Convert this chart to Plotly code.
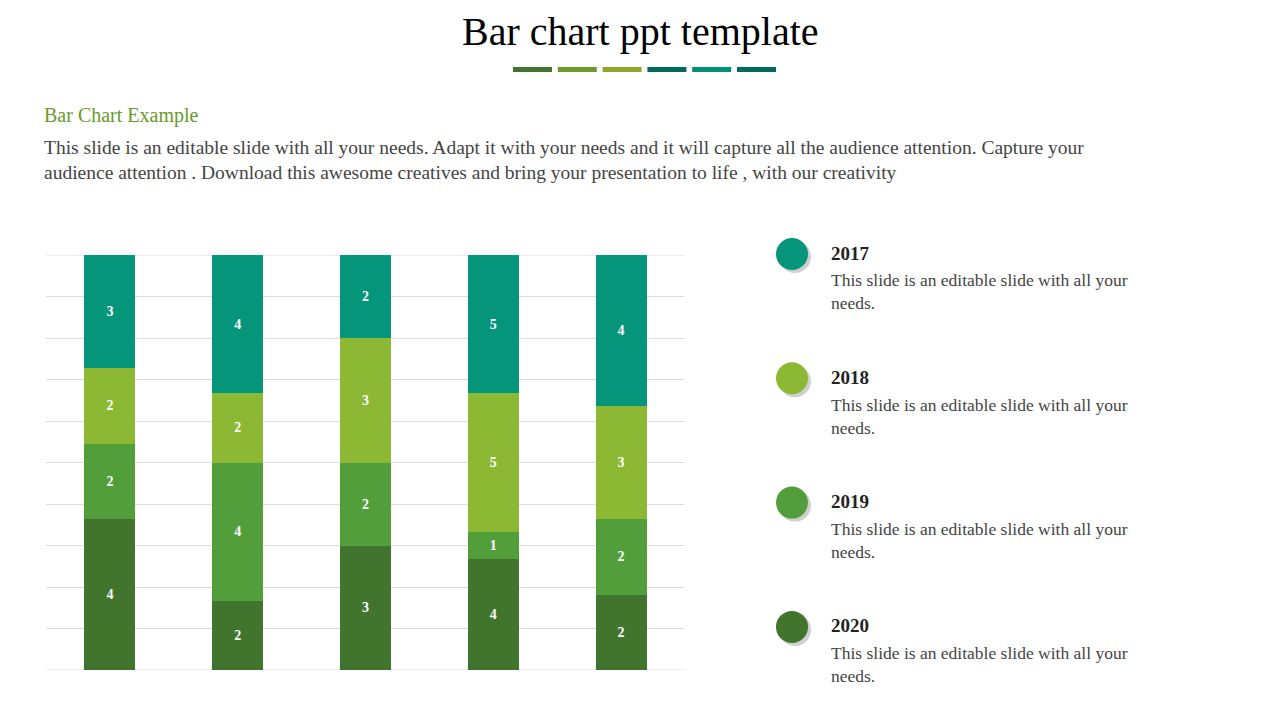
import plotly.graph_objects as go

categories = ["A", "B", "C", "D", "E"]
years = ["2020", "2019", "2018", "2017"]
values = {
    "2020": [4, 2, 3, 4, 2],
    "2019": [2, 4, 2, 1, 2],
    "2018": [2, 2, 3, 5, 3],
    "2017": [3, 4, 2, 5, 4],
}
colors = {"2017": "#05957a", "2018": "#8db833", "2019": "#529e3a", "2020": "#41752d"}
SERIF = "Liberation Serif"
W, H = 1280, 720
OFF = 8  # page offset

def px(x): return (x - OFF) / W
def py(y): return 1 - (y - OFF) / H

fig = go.Figure()
for y in years:
    fig.add_trace(go.Bar(
        x=categories, y=values[y], name=y, marker_color=colors[y], marker_line_width=0,
        text=[f"<b>{v}</b>" for v in values[y]], textposition="inside", insidetextanchor="middle",
        textfont=dict(color="white", size=14, family=SERIF), showlegend=False))

fig.update_layout(
    width=W, height=H, barmode="stack", barnorm="percent", bargap=0.6,
    margin=dict(l=0, r=0, t=0, b=0), paper_bgcolor="white", plot_bgcolor="white",
    font=dict(family=SERIF),
    xaxis=dict(domain=[px(46), px(685)], range=[-0.5, 4.5], showticklabels=False, showgrid=False, zeroline=False),
    yaxis=dict(domain=[py(670), py(255)], range=[0, 100], dtick=10, showticklabels=False,
               gridcolor="#dddddd", zeroline=False),
)

shapes = [dict(type="line", xref="x domain", yref="y", x0=0, x1=1, y0=100, y1=100,
               line=dict(color="#dddddd", width=1), layer="below"),
          dict(type="line", xref="x domain", yref="y", x0=0, x1=1, y0=0, y1=0,
               line=dict(color="#dddddd", width=1), layer="below")]
ann = []
def A(**k):
    k.setdefault("xref", "paper"); k.setdefault("yref", "paper"); k.setdefault("showarrow", False)
    ann.append(k)

A(x=px(640), y=py(32), text="Bar chart ppt template", xanchor="center", yanchor="middle",
  font=dict(size=40, color="black", family=SERIF))
line_cols = ["#41752d", "#6b9a2a", "#8fa82a", "#006b5a", "#009077", "#006b5a"]
for i, c in enumerate(line_cols):
    x0 = 513 + i * 44.8
    shapes.append(dict(type="rect", xref="paper", yref="paper", x0=px(x0), x1=px(x0 + 39),
                       y0=py(72), y1=py(67), fillcolor=c, line_width=0))
A(x=px(42), y=py(115), text="Bar Chart Example", xanchor="left", yanchor="middle",
  font=dict(size=20, color="#6b9a2a", family=SERIF))
A(x=px(42), y=py(160), xanchor="left", yanchor="middle", align="left",
  text="This slide is an editable slide with all your needs. Adapt it with your needs and it will capture all the audience attention. Capture your<br>audience attention . Download this awesome creatives and bring your presentation to life , with our creativity",
  font=dict(size=19.5, color="#444444", family=SERIF))

for i, y in enumerate(["2017", "2018", "2019", "2020"]):
    cy = 254 + i * 124.3
    shapes.append(dict(type="circle", xref="paper", yref="paper", x0=px(779), x1=px(811),
                       y0=py(cy + 19), y1=py(cy - 13), fillcolor="#bbbbbb", line_width=0, opacity=0.7))
    shapes.append(dict(type="circle", xref="paper", yref="paper", x0=px(776), x1=px(808),
                       y0=py(cy + 16), y1=py(cy - 16), fillcolor=colors[y], line_width=0))
    A(x=px(829), y=py(cy - 1), text=f"<b>{y}</b>", xanchor="left", yanchor="middle",
      font=dict(size=19, color="#222222", family=SERIF))
    A(x=px(829), y=py(cy + 38), xanchor="left", yanchor="middle", align="left",
      text="This slide is an editable slide with all your<br>needs.",
      font=dict(size=17.5, color="#444444", family=SERIF))

fig.update_layout(annotations=ann, shapes=shapes)
fig.write_html("out.html")
